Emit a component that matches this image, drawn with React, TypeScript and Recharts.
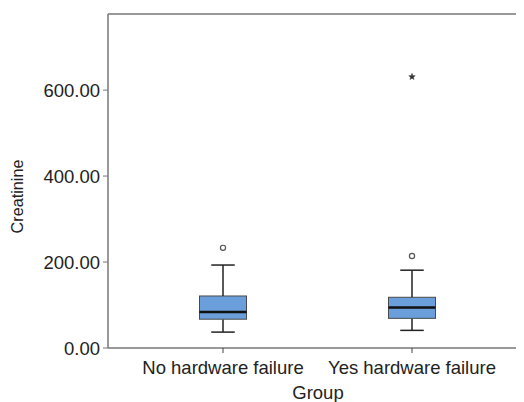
import React from 'react';
import { ComposedChart, Bar, Line, XAxis, YAxis, ReferenceLine, Customized } from 'recharts';

const groups = ['No hardware failure', 'Yes hardware failure'];
const whiskerLow = [37, 41];
const q1 = [67, 69];
const median = [84, 94];
const q3 = [121, 118];
const whiskerHigh = [193, 181];
const outliers = [233, 214];
const extremes: (number | null)[] = [null, 631];
const yTicks = [0, 200, 400, 600];
const yMax = 777;

const data = groups.map((g, i) => ({
  group: g,
  base: whiskerLow[i],
  lowW: q1[i] - whiskerLow[i],
  boxLow: median[i] - q1[i],
  boxHigh: q3[i] - median[i],
  highW: whiskerHigh[i] - q3[i],
  outlier: outliers[i],
  extreme: extremes[i],
}));

const BOX_FILL = '#6a9fdc';
const BOX_STROKE = '#4a4a4a';
const LINE = '#222';
const AXIS = '#777';
const TEXT = '#222';
const FONT = 'Liberation Sans, Arial, Helvetica, sans-serif';
const FS = 18.5;
const BAR = 47;

const Empty = () => <g />;

const LowerWhisker = (p: any) => {
  const { x, y, width, height } = p;
  const cx = x + width / 2;
  return (
    <g>
      <line x1={cx} y1={y} x2={cx} y2={y + height} stroke={LINE} strokeWidth={1.5} />
      <line x1={cx - width / 4} y1={y + height} x2={cx + width / 4} y2={y + height} stroke={LINE} strokeWidth={1.5} />
    </g>
  );
};

const UpperWhisker = (p: any) => {
  const { x, y, width, height } = p;
  const cx = x + width / 2;
  return (
    <g>
      <line x1={cx} y1={y} x2={cx} y2={y + height} stroke={LINE} strokeWidth={1.5} />
      <line x1={cx - width / 4} y1={y} x2={cx + width / 4} y2={y} stroke={LINE} strokeWidth={1.5} />
    </g>
  );
};

const BoxLow = (p: any) => {
  const { x, y, width, height } = p;
  return <rect x={x} y={y} width={width} height={height} fill={BOX_FILL} stroke={BOX_STROKE} strokeWidth={1} />;
};

const BoxHigh = (p: any) => {
  const { x, y, width, height } = p;
  return (
    <g>
      <rect x={x} y={y} width={width} height={height} fill={BOX_FILL} stroke={BOX_STROKE} strokeWidth={1} />
      <line x1={x} y1={y + height} x2={x + width} y2={y + height} stroke="#111" strokeWidth={2.5} />
    </g>
  );
};

const OutlierDot = (p: any) => {
  const { cx, cy, index } = p;
  if (cx == null || cy == null || isNaN(cy)) return <g key={`o-${index}`} />;
  return <circle key={`o-${index}`} cx={cx} cy={cy} r={2.6} fill="#fff" stroke="#555" strokeWidth={1.2} />;
};

const StarDot = (p: any) => {
  const { cx, cy, index, payload } = p;
  if (cx == null || cy == null || isNaN(cy) || payload.extreme == null) return <g key={`s-${index}`} />;
  const pts: string[] = [];
  for (let k = 0; k < 10; k++) {
    const r = k % 2 === 0 ? 3.4 : 1.4;
    const a = -Math.PI / 2 + (k * Math.PI) / 5;
    pts.push(`${cx + r * Math.cos(a)},${cy + r * Math.sin(a)}`);
  }
  return <polygon key={`s-${index}`} points={pts.join(' ')} fill="#333" stroke="#333" strokeWidth={0.5} />;
};

const AxisLabels = () => (
  <g fontFamily={FONT} fill={TEXT}>
    <text x={15.3} y={188.5} fontSize={16.2} transform="rotate(-90 15.3 188.5)" textAnchor="middle">Creatinine</text>
    <text x={310} y={391} fontSize={FS} textAnchor="middle">Group</text>
  </g>
);

export default function App() {
  return (
    <ComposedChart
      width={516}
      height={394}
      data={data}
      margin={{ top: 6, right: 2, bottom: 24, left: 0 }}
      style={{ fontFamily: FONT }}
    >
      <XAxis
        dataKey="group"
        height={30}
        padding={{ left: 20.5, right: 15.5 }}
        tickSize={5}
        tickMargin={7.6}
        axisLine={{ stroke: AXIS, strokeWidth: 1.5 }}
        tickLine={{ stroke: '#444' }}
        tick={{ fill: TEXT, fontSize: FS }}
        interval={0}
      />
      <YAxis
        width={100}
        domain={[0, yMax]}
        ticks={yTicks}
        allowDataOverflow
        tickFormatter={(v: number) => v.toFixed(2)}
        tickSize={5}
        tickMargin={3}
        axisLine={{ stroke: AXIS, strokeWidth: 1.5 }}
        tickLine={{ stroke: AXIS }}
        tick={{ fill: TEXT, fontSize: FS }}
      />
      <ReferenceLine y={yMax} stroke={AXIS} strokeWidth={1.5} ifOverflow="extendDomain" />
      <Bar dataKey="base" stackId="b" barSize={BAR} shape={Empty} isAnimationActive={false} />
      <Bar dataKey="lowW" stackId="b" barSize={BAR} shape={LowerWhisker} isAnimationActive={false} />
      <Bar dataKey="boxLow" stackId="b" barSize={BAR} shape={BoxLow} isAnimationActive={false} />
      <Bar dataKey="boxHigh" stackId="b" barSize={BAR} shape={BoxHigh} isAnimationActive={false} />
      <Bar dataKey="highW" stackId="b" barSize={BAR} shape={UpperWhisker} isAnimationActive={false} />
      <Line dataKey="outlier" stroke="none" dot={OutlierDot} activeDot={false} isAnimationActive={false} />
      <Line dataKey="extreme" stroke="none" dot={StarDot} activeDot={false} isAnimationActive={false} />
      <Customized component={AxisLabels} />
    </ComposedChart>
  );
}
